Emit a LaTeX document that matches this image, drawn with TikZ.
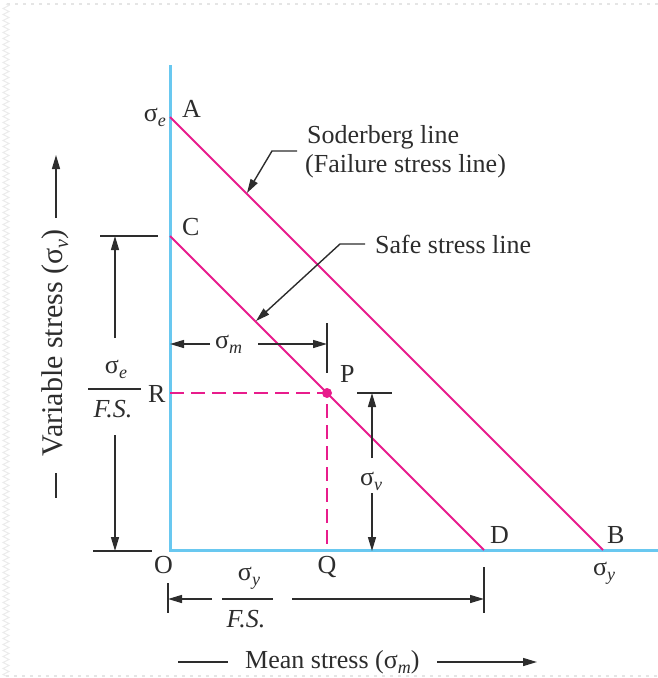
\documentclass[tikz,border=0pt]{standalone}
\usepackage{fontspec}
\setmainfont{Liberation Serif}
\usetikzlibrary{arrows.meta,decorations.pathmorphing}
\definecolor{pinkl}{RGB}{232,28,140}
\definecolor{axisb}{RGB}{105,200,240}
\definecolor{ink}{RGB}{45,45,45}
\newcommand\sg[1]{σ\raisebox{-5pt}{\fontsize{18}{18}\selectfont\itshape #1}}
\newcommand\sgb[1]{σ\raisebox{-6pt}{\fontsize{20}{20}\selectfont\itshape #1}}
\begin{document}
\begin{tikzpicture}[x=1pt,y=-1pt,font=\fontsize{26}{29}\selectfont,
  txt/.style={inner sep=0pt,text=ink},
  dim/.style={draw=ink,line width=1.4pt},
  arr/.style={dim,-{Triangle[length=14pt,width=8pt]}},
  pline/.style={draw=pinkl,line width=1.8pt},
  axisline/.style={draw=axisb,line width=3pt},
  frameline/.style={draw=black!10,line width=1.2pt,dash pattern=on 3pt off 5pt}]
\useasboundingbox (0,0) rectangle (658,678);
% faint frame
\coordinate (fr1) at (658,4);
\coordinate (fr2) at (6,4);
\coordinate (fr3) at (6,676);
\coordinate (fr4) at (658,676);
\draw[frameline] (fr1) -- (fr2);
\draw[draw=black!8,line width=1pt,decorate,decoration={zigzag,segment length=6pt,amplitude=3pt}] (fr2) -- (fr3);
\draw[frameline] (fr3) -- (fr4);
% key points
\coordinate (Ytop) at (170,65);
\coordinate (O) at (170,550);
\coordinate (Xend) at (658,550);
\coordinate (A) at (170,117);
\coordinate (B) at (603,550);
\coordinate (C) at (170,236);
\coordinate (D) at (484,550);
\coordinate (P) at (327,393);
\coordinate (Rr) at (170,393);
\coordinate (Qq) at (327,550);
% axes
\draw[axisline] (Ytop) -- (O) -- (Xend);
% lines
\draw[pline] (A) -- (B);
\draw[pline] (C) -- (D);
\draw[pline,dash pattern=on 14pt off 7pt] (Rr) -- (P) -- (Qq);
\fill[pinkl] (P) circle (5);
% point labels
\node[txt,anchor=base west] (lA) at (182,117) {A};
\node[txt,anchor=base west] (lC) at (182,235) {C};
\node[txt,anchor=base west] (lR) at (148,402) {R};
\node[txt,anchor=base west] (lP) at (340,382) {P};
\node[txt,anchor=base west] (lO) at (154,573) {O};
\node[txt,anchor=base] (lQ) at (327,573) {Q};
\node[txt,anchor=base west] (lD) at (490,543) {D};
\node[txt,anchor=base west] (lB) at (607,543) {B};
\node[txt,anchor=base east] (se) at (166,121) {\sg{e}};
\node[txt,anchor=base west] (sy) at (593,575) {\sg{y}};
% callouts
\node[txt,anchor=base west] (sod1) at (307,143) {Soderberg line};
\node[txt,anchor=base west] (sod2) at (305,172) {(Failure stress line)};
\node[txt,anchor=base west] (safe) at (375,253) {Safe stress line};
\coordinate (c1a) at (297,151);
\coordinate (c1b) at (272,151);
\coordinate (c1c) at (247,193);
\draw[arr] (c1a) -- (c1b) -- (c1c);
\coordinate (c2a) at (365,244);
\coordinate (c2b) at (340,244);
\coordinate (c2c) at (256,321);
\draw[arr] (c2a) -- (c2b) -- (c2c);
% sigma_m dimension
\node[txt,anchor=base west] (sm) at (215,348) {\sg{m}};
\coordinate (smL) at (170,344);
\coordinate (smA) at (210,344);
\coordinate (smB) at (258,344);
\coordinate (smR) at (327,344);
\coordinate (tk1a) at (327,323);
\coordinate (tk1b) at (327,373);
\draw[arr] (smA) -- (smL);
\draw[arr] (smB) -- (smR);
\draw[dim] (tk1a) -- (tk1b);
% left dimension sigma_e / F.S.
\coordinate (lt1) at (100,236);
\coordinate (lt2) at (158,236);
\coordinate (lb1) at (93,551);
\coordinate (lb2) at (152,551);
\coordinate (la1) at (115,338);
\coordinate (la2) at (115,236);
\coordinate (la3) at (115,435);
\coordinate (la4) at (115,551);
\draw[dim] (lt1) -- (lt2);
\draw[dim] (lb1) -- (lb2);
\draw[arr] (la1) -- (la2);
\draw[arr] (la3) -- (la4);
\node[txt,anchor=base] (fe1) at (116,373) {\sg{e}};
\node[txt,anchor=base] (fe2) at (113,417) {\itshape F.S.};
\coordinate (fb1) at (88,389);
\coordinate (fb2) at (141,389);
\draw[dim] (fb1) -- (fb2);
% sigma_v dimension
\coordinate (vt1) at (357,393);
\coordinate (vt2) at (392,393);
\coordinate (va1) at (372,458);
\coordinate (va2) at (372,393);
\coordinate (va3) at (372,493);
\coordinate (va4) at (372,551);
\draw[dim] (vt1) -- (vt2);
\draw[arr] (va1) -- (va2);
\draw[arr] (va3) -- (va4);
\node[txt,anchor=base] (sv) at (371,485) {\sg{v}};
% bottom dimension sigma_y / F.S.
\coordinate (bt1) at (168,583);
\coordinate (bt2) at (168,613);
\coordinate (bt3) at (484,567);
\coordinate (bt4) at (484,613);
\coordinate (ba1) at (212,599);
\coordinate (ba2) at (168,599);
\coordinate (ba3) at (292,599);
\coordinate (ba4) at (484,599);
\draw[dim] (bt1) -- (bt2);
\draw[dim] (bt3) -- (bt4);
\draw[arr] (ba1) -- (ba2);
\draw[arr] (ba3) -- (ba4);
\node[txt,anchor=base] (fy1) at (249,580) {\sg{y}};
\node[txt,anchor=base] (fy2) at (246,627) {\itshape F.S.};
\coordinate (fc1) at (222,599);
\coordinate (fc2) at (273,599);
\draw[dim] (fc1) -- (fc2);
% axis titles
\node[txt,anchor=base west] (mean) at (245,668) {Mean stress (\sg{m})};
\coordinate (mx1) at (178,662);
\coordinate (mx2) at (228,662);
\coordinate (mx3) at (437,662);
\coordinate (mx4) at (537,662);
\draw[dim] (mx1) -- (mx2);
\draw[arr] (mx3) -- (mx4);
\node[txt,anchor=base,rotate=90,font=\fontsize{30}{32}\selectfont] (var) at (62,343) {Variable stress (\sgb{v})};
\coordinate (vy1) at (56,218);
\coordinate (vy2) at (56,155);
\coordinate (vy3) at (56,473);
\coordinate (vy4) at (56,498);
\draw[arr] (vy1) -- (vy2);
\draw[dim] (vy3) -- (vy4);
\end{tikzpicture}
\end{document}
